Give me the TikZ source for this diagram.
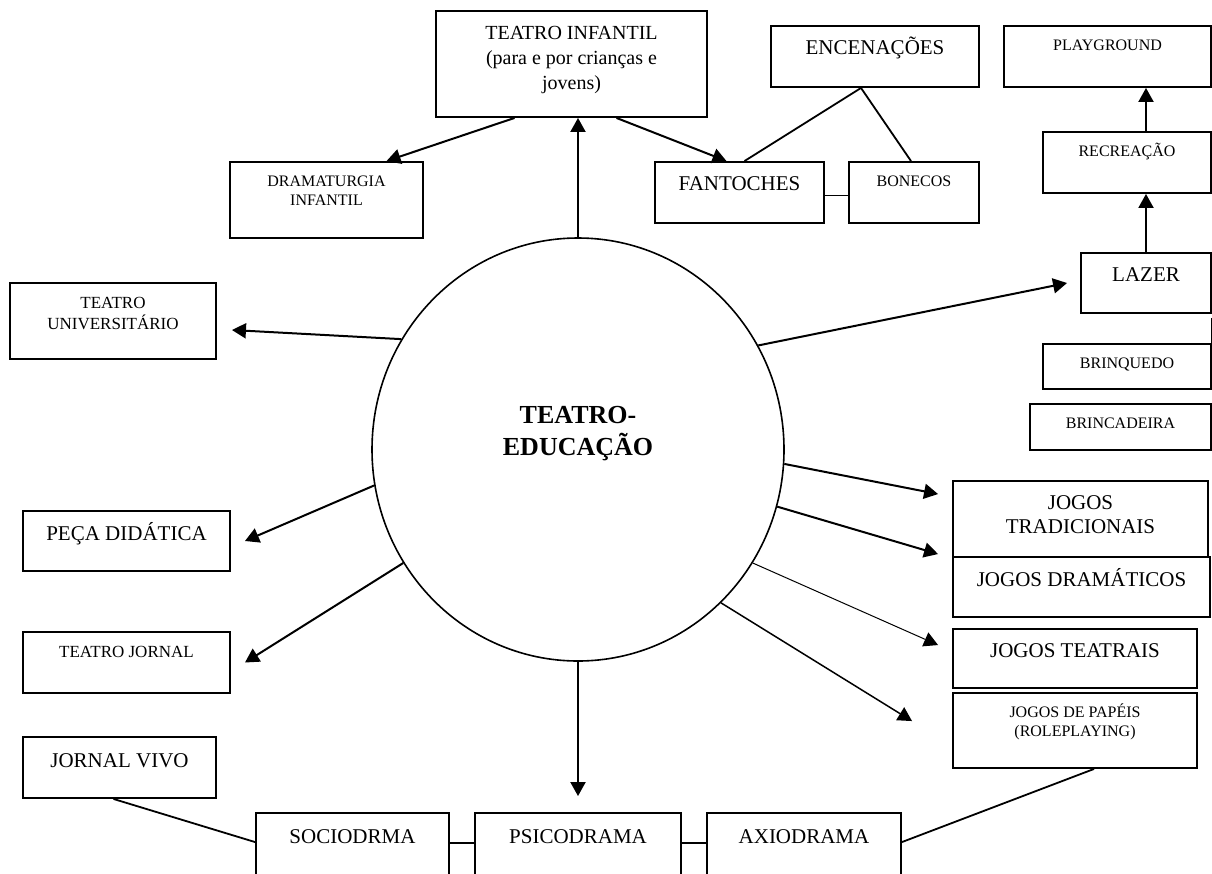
\documentclass[tikz,border=0pt]{standalone}
\usepackage{fontspec}
\setmainfont{Liberation Serif}
\usetikzlibrary{arrows.meta,shapes.geometric}
\def\caixa[#1](#2)(#3,#4)(#5,#6)#7{\node[caixa, minimum width={#5-#3}, minimum height={#6-#4}, label={[rotulo,#1]north:{\strut #7}}] (#2) at ({(#3+#5)/2},{(#4+#6)/2}) {};}

\begin{document}
\begin{tikzpicture}[x=1pt, y=-1pt,
		caixa/.style={draw, line width=1.9pt, inner sep=0pt},
		rotulo/.style={anchor=north, align=center, inner sep=0pt, yshift=-12pt},
		grande/.style={font=\fontsize{21}{24}\selectfont},
		titulo/.style={font=\fontsize{20}{25}\selectfont},
		medio/.style={font=\fontsize{17}{21}\selectfont},
		pequeno/.style={font=\fontsize{16}{19}\selectfont},
		seta/.style={line width=2pt, -{Triangle[length=14pt,width=15pt]}},
		seta media/.style={seta, line width=1.5pt},
		seta fina/.style={seta, line width=1pt},
		liga/.style={line width=1.8pt}]
			%%%%% START %%%%%
			\useasboundingbox (0,0) rectangle (1212,873);
			
			\node[draw, ellipse, line width=1.6pt, minimum width=412, minimum height=423, inner sep=0pt,
				label={[rotulo, font=\fontsize{26}{32}\selectfont\bfseries, yshift=-152pt]north:{\strut TEATRO-\\EDUCAÇÃO}}] (centro) at (578,449.5) {};
			
			\caixa[titulo](ti)(436,11)(707,117){TEATRO INFANTIL\\(para e por crianças e\\jovens)}
			\caixa[pequeno](dram)(230,162)(423,238){DRAMATURGIA\\INFANTIL}
			\caixa[medio](tu)(10,283)(216,359){TEATRO\\UNIVERSITÁRIO}
			\caixa[grande](enc)(771,26)(979,87){ENCENAÇÕES}
			\caixa[pequeno](play)(1004,26)(1211,87){PLAYGROUND}
			\caixa[pequeno](rec)(1043,132)(1211,193){RECREAÇÃO}
			\caixa[grande](fan)(655,162)(824,223){FANTOCHES}
			\caixa[pequeno](bon)(849,162)(979,223){BONECOS}
			\caixa[grande](laz)(1081,253)(1211,313){LAZER}
			\caixa[pequeno](brq)(1043,344)(1211,389){BRINQUEDO}
			\caixa[pequeno](brc)(1030,404)(1211,450){BRINCADEIRA}
			\caixa[grande](jt)(953,481)(1208,557){JOGOS\\TRADICIONAIS}
			\caixa[grande](jd)(953,557)(1210,617){JOGOS DRAMÁTICOS}
			\caixa[grande](jte)(953,629)(1197,688){JOGOS TEATRAIS}
			\caixa[pequeno](jp)(953,693)(1197,768){JOGOS DE PAPÉIS\\(ROLEPLAYING)}
			\caixa[grande](peca)(23,511)(230,571){PEÇA DIDÁTICA}
			\caixa[medio](tjor)(23,632)(230,693){TEATRO JORNAL}
			\caixa[grande, yshift=-2pt](jv)(23,737)(216,798){JORNAL VIVO}
			\caixa[grande, yshift=-2pt](soc)(256,813)(449,885){SOCIODRMA}
			\caixa[grande, yshift=-2pt](psi)(475,813)(681,885){PSICODRAMA}
			\caixa[grande, yshift=-2pt](axi)(707,813)(901,885){AXIODRAMA}
			
			% teatro infantil
			\draw[seta] (centro.north) -- (centro.north |- ti.south);
			\draw[seta] ([xshift=-57pt]ti.south) -- ([xshift=60pt]dram.north);
			\draw[seta] ([xshift=45pt]ti.south) -- ([xshift=-13pt]fan.north);
			\draw[liga] ([xshift=-14pt]enc.south) -- ([xshift=5pt]fan.north);
			\draw[liga] ([xshift=-14pt]enc.south) -- ([xshift=-3pt]bon.north);
			\draw[liga] ([yshift=-3pt]fan.east) -- ([yshift=-3pt]bon.west);
			
			% lazer
			\draw[seta] (centro.30) -- ([xshift=-13pt]laz.west);
			\draw[seta] (laz.north) -- (laz.north |- rec.south);
			\draw[seta] (laz.north |- rec.north) -- (laz.north |- play.south);
			\draw[liga] ([yshift=-4pt]laz.south east) -- (brq.north east);
			
			% jogos
			\draw[seta] (centro.356) -- ([shift={(-14,14)}]jt.north west);
			\draw[seta] (centro.344) -- ([shift={(-14,-2)}]jd.north west);
			\draw[seta fina] (centro.327) -- ([shift={(-14,17)}]jte.north west);
			\draw[seta media] (centro.313) -- ([shift={(-40,29)}]jp.north west);
			
			% dramas
			\draw[seta, shorten >=16pt] (centro.south) -- (centro.south |- psi.north);
			\draw[liga] ([xshift=19pt]jp.south) -- ([yshift=-30pt]axi.north east);
			\draw[liga] ([yshift=-31pt]psi.north east) -- ([yshift=-31pt]axi.north west);
			\draw[liga] ([yshift=-31pt]soc.north east) -- ([yshift=-31pt]psi.north west);
			\draw[liga] ([xshift=-6pt]jv.south) -- ([yshift=-30pt]soc.north west);
			
			% esquerda
			\draw[seta] (centro.148) -- ([shift={(15,9)}]tu.east);
			\draw[seta] (centro.190) -- ([xshift=14pt]peca.east);
			\draw[seta] (centro.213) -- ([xshift=14pt]tjor.east);
			%%%%% END %%%%%
\end{tikzpicture}
\end{document}
